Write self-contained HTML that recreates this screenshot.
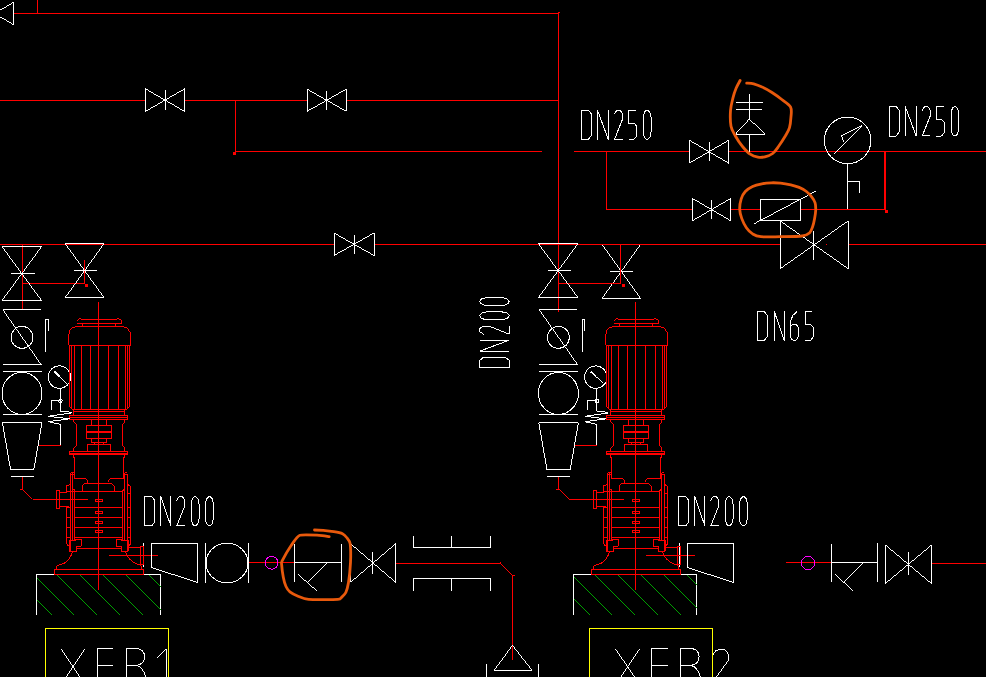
<!DOCTYPE html><html><head><meta charset="utf-8"><title>CAD</title><style>html,body{margin:0;padding:0;background:#000;overflow:hidden}svg{display:block}</style></head><body>
<svg width="986" height="677" viewBox="0 0 986 677" shape-rendering="crispEdges" fill="none" stroke-width="1" stroke-linejoin="bevel">
<rect width="986" height="677" fill="#000"/>
<g stroke="#ffffff" color="#ffffff">
<path  d="M602 244.4L640.6 244.4M602 298.4L640.6 298.4"/><polygon stroke="none" fill="currentColor" points="640.1,244.4 601.5,298.4 602.5,298.4 641.1,244.4"/><polygon stroke="none" fill="currentColor" points="640.1,298.4 601.5,244.4 602.5,244.4 641.1,298.4"/><path d="M610 271.4H633"/>
<path d="M36.5 615V574.5H160.5V615M573.5 615V574.5H696.7V615"/>
<circle cx="59.4" cy="377.1" r="11.2"/><circle cx="595.8" cy="377.1" r="11.2"/>
<path d="M143.5 543.1V567.2M679.5 543.1V567.2"/>
</g>
<g stroke="#ff0000" color="#ff0000">
<path d="M14 13.5H559M37.5 0V13.5M558.9 13V312.4"/><rect x="558" y="11.6" width="2" height="1.4" fill="#f00" stroke="none"/>
<path d="M0 100.5H145.3M184.8 100.5H307.4M346 100.5H559"/>
<path d="M235.5 100.5V152M235.5 151.5H541.5"/><rect x="232.5" y="152" width="3" height="3" fill="#f00" stroke="none"/>
<path d="M573.6 151.9H689.6M728.5 151.9H986"/>
<path d="M606.5 152V209.6M606.5 209.6H692.4M730.8 209.6H760.4M800.5 209.6H885"/>
<path d="M885 152V210" stroke-width="2"/><rect x="885" y="210" width="3" height="3" fill="#f00" stroke="none"/>
<path d="M0 244.5H334M374 244.5H780.4M848 244.5H986"/><rect x="825.5" y="244" width="1.5" height="1" fill="#f00" stroke="none"/>
<path d="M22.4 244.5V309.6M84.6 260V283.6M22.4 283.4H84.6"/><rect x="85" y="284" width="3" height="3" fill="#f00" stroke="none"/>
<path d="M620.6 244.5V283.6M558.9 283.4H620.6"/><rect x="621.5" y="284" width="3" height="3" fill="#f00" stroke="none"/>
<path  d="M248.5 562.6L294.6 562.6M395.7 563L500.4 563L500.4 561.5M512.7 575.4L512.7 659.6"/><polygon stroke="none" fill="currentColor" points="499.9,563 512.2,575.4 513.2,575.4 500.9,563"/><polygon stroke="none" fill="currentColor" points="512.7,574.9 514.5,574.5 514.5,575.5 512.7,575.9"/>
<path d="M785.5 562.6H831.4M931.5 563.4H986"/>

<path d="M98.5 302.4V590.4"/>
<path d="M76.5 321.5L79.5 318.5H80.5L81.5 319.5H116.5L117.5 318.5H118.5L119.5 319.5H120.5L121.5 320.5V323.5H76.5M82.5 323.5V326.5M115.5 323.5V326.5"/>
<path d="M68.5 345V334.5L69.5 333V330.5L70.5 329.5L72.5 327.5H74.5L75.5 326.5H123.5L124.5 327.5H126.5L128.5 329.5V330.5L130.5 332.5V345M68.5 345.5H130.5"/>
<path d="M69.5 345V406.5L72.5 409.5M71.5 345V408M74.5 345V409.5M81.5 345V409.5M90.5 345V409.5M108.5 345V409.5M118.5 345V409.5M125.5 345V409.5M127.5 345V408M129.5 345V406.5L126.5 409.5"/>
<path d="M72 409.5H127M73.5 409.5V415.5M124.5 409.5V415.5M73.5 411.5H124.5"/>
<path d="M69.5 415.5H127.5V419.5H69.5ZM69.5 417.5H127.5"/>
<path d="M73.5 419.5V421.5L76.5 424.5V445.5L73.5 448.5V451M124.5 419.5V422.5L122.5 424.5V445.5L124.6 447.5V451"/>
<path d="M91.3 419.4V425.2M106.3 419.4V425.2M86.2 425.2H111.9V438.8H86.2ZM86.2 431.5H111.9M86.2 432.5H111.9M91.3 438.8V442.6H106.3V438.8M94.2 442.6V444H103.6V442.6M87.5 451V444.6H110.7V451"/>
<path d="M69.5 451.5H127.5V454.5H69.5ZM69.5 453.5H127.5"/>
<path d="M73.5 454.5V457.5H74.5V478.5M124.5 454.5V457.5H123.5V478.5"/>
<!-- tie rods -->
<path d="M70.5 472.5H74.5M70.5 474.5H74.5M70.5 472.5V552M72.5 472.5V540.4M72.5 489.5H74.5V540.4M124.5 472.5H126.5L127.5 473.5M124.5 474.5H127.5M127.5 473.5V552M124.5 472.5V540.4M124.5 489.5L122.5 490.5V540.4"/>
<!-- upper inner chamber -->
<path d="M74.5 478.5H85.5L87.5 480.5V482.5M123.5 478.5H110.5L108.5 480.5V481.5L109.5 482.5M83.5 483.5H111.5L114.5 486.5V491M84.5 483.5L82.5 485.5V491M66.5 491.5H122.5"/>
<!-- stages -->
<path d="M74.5 507.5H122.5M74.5 517.5H122.5M74.5 527.5H122.5M74.5 537.5H122.5"/>
<path d="M95.3 499.5H102.7V501.7H95.3ZM95.3 511.3H102.7V513.5H95.3ZM95.3 521.2H102.7V523.3H95.3ZM95.3 530.4H102.7V532.6H95.3Z"/>
<!-- outer casing -->
<path d="M70.5 483.5L68.5 485.5H66.5V492.3M66.5 506.2V543.3Q67 545.5 69.2 546.2M66.5 507.5H70.5M66.5 517.5H70.5M66.5 527.5H70.5M66.5 537.5H70.5"/>
<path d="M127.5 484.5L129.5 485.5L130.5 486.5V543.3Q130.2 545.5 128.1 546.2M127.5 493.5H130.5M127.5 507.5H130.5M127.5 517.5H130.5M127.5 527.5H130.5M127.5 537.5H130.5"/>
<!-- inlet flange -->
<path d="M57.4 490.3H58.4Q59.4 490.3 59.4 491.3V507.6Q59.4 508.6 58.4 508.6H57.4Q56.4 508.6 56.4 507.6V491.3Q56.4 490.3 57.4 490.3ZM59.4 492.5H66.5M59.4 506.2H68.7"/>
<!-- nuts -->
<path d="M75.9 539.4H81.3V546.2H76.7V551.4H69.3V540.4H75.9ZM121.1 539.4H116.5V546.2H121.1V551.4H128.1V540.4H121.1ZM76.8 548.2H121.1"/>
<!-- bell base -->
<path d="M72.7 551.3Q70 560 64 563.4L57.2 565.7L56.1 569.6M125.2 551.3Q128 560 136.3 563.7L141 565.5V569.6M56 569.6H141M54.4 569.6H143.9V574.4H54.4Z"/>
<!-- outlet -->
<path d="M129.3 547H140.4M140.4 546H143.3V564.8H140.4ZM109.2 555.4H158"/>

<path  d="M22.3 476.4L22.3 489M32.5 499.4L87.8 499.4M37.7 445.5L61 445.5"/><polygon stroke="none" fill="currentColor" points="22.3,488.5 19.5,489 19.5,490 22.3,489.5"/><polygon stroke="none" fill="currentColor" points="21.8,489 32,499.4 33,499.4 22.8,489"/>
<g transform="translate(537 0)">
<path d="M98.5 302.4V590.4"/>
<path d="M76.5 321.5L79.5 318.5H80.5L81.5 319.5H116.5L117.5 318.5H118.5L119.5 319.5H120.5L121.5 320.5V323.5H76.5M82.5 323.5V326.5M115.5 323.5V326.5"/>
<path d="M68.5 345V334.5L69.5 333V330.5L70.5 329.5L72.5 327.5H74.5L75.5 326.5H123.5L124.5 327.5H126.5L128.5 329.5V330.5L130.5 332.5V345M68.5 345.5H130.5"/>
<path d="M69.5 345V406.5L72.5 409.5M71.5 345V408M74.5 345V409.5M81.5 345V409.5M90.5 345V409.5M108.5 345V409.5M118.5 345V409.5M125.5 345V409.5M127.5 345V408M129.5 345V406.5L126.5 409.5"/>
<path d="M72 409.5H127M73.5 409.5V415.5M124.5 409.5V415.5M73.5 411.5H124.5"/>
<path d="M69.5 415.5H127.5V419.5H69.5ZM69.5 417.5H127.5"/>
<path d="M73.5 419.5V421.5L76.5 424.5V445.5L73.5 448.5V451M124.5 419.5V422.5L122.5 424.5V445.5L124.6 447.5V451"/>
<path d="M91.3 419.4V425.2M106.3 419.4V425.2M86.2 425.2H111.9V438.8H86.2ZM86.2 431.5H111.9M86.2 432.5H111.9M91.3 438.8V442.6H106.3V438.8M94.2 442.6V444H103.6V442.6M87.5 451V444.6H110.7V451"/>
<path d="M69.5 451.5H127.5V454.5H69.5ZM69.5 453.5H127.5"/>
<path d="M73.5 454.5V457.5H74.5V478.5M124.5 454.5V457.5H123.5V478.5"/>
<!-- tie rods -->
<path d="M70.5 472.5H74.5M70.5 474.5H74.5M70.5 472.5V552M72.5 472.5V540.4M72.5 489.5H74.5V540.4M124.5 472.5H126.5L127.5 473.5M124.5 474.5H127.5M127.5 473.5V552M124.5 472.5V540.4M124.5 489.5L122.5 490.5V540.4"/>
<!-- upper inner chamber -->
<path d="M74.5 478.5H85.5L87.5 480.5V482.5M123.5 478.5H110.5L108.5 480.5V481.5L109.5 482.5M83.5 483.5H111.5L114.5 486.5V491M84.5 483.5L82.5 485.5V491M66.5 491.5H122.5"/>
<!-- stages -->
<path d="M74.5 507.5H122.5M74.5 517.5H122.5M74.5 527.5H122.5M74.5 537.5H122.5"/>
<path d="M95.3 499.5H102.7V501.7H95.3ZM95.3 511.3H102.7V513.5H95.3ZM95.3 521.2H102.7V523.3H95.3ZM95.3 530.4H102.7V532.6H95.3Z"/>
<!-- outer casing -->
<path d="M70.5 483.5L68.5 485.5H66.5V492.3M66.5 506.2V543.3Q67 545.5 69.2 546.2M66.5 507.5H70.5M66.5 517.5H70.5M66.5 527.5H70.5M66.5 537.5H70.5"/>
<path d="M127.5 484.5L129.5 485.5L130.5 486.5V543.3Q130.2 545.5 128.1 546.2M127.5 493.5H130.5M127.5 507.5H130.5M127.5 517.5H130.5M127.5 527.5H130.5M127.5 537.5H130.5"/>
<!-- inlet flange -->
<path d="M57.4 490.3H58.4Q59.4 490.3 59.4 491.3V507.6Q59.4 508.6 58.4 508.6H57.4Q56.4 508.6 56.4 507.6V491.3Q56.4 490.3 57.4 490.3ZM59.4 492.5H66.5M59.4 506.2H68.7"/>
<!-- nuts -->
<path d="M75.9 539.4H81.3V546.2H76.7V551.4H69.3V540.4H75.9ZM121.1 539.4H116.5V546.2H121.1V551.4H128.1V540.4H121.1ZM76.8 548.2H121.1"/>
<!-- bell base -->
<path d="M72.7 551.3Q70 560 64 563.4L57.2 565.7L56.1 569.6M125.2 551.3Q128 560 136.3 563.7L141 565.5V569.6M56 569.6H141M54.4 569.6H143.9V574.4H54.4Z"/>
<!-- outlet -->
<path d="M129.3 547H140.4M140.4 546H143.3V564.8H140.4ZM109.2 555.4H158"/>
</g>
<g transform="translate(536.4 0)"><path  d="M22.3 476.4L22.3 489M32.5 499.4L87.8 499.4M37.7 445.5L61 445.5"/><polygon stroke="none" fill="currentColor" points="22.3,488.5 19.5,489 19.5,490 22.3,489.5"/><polygon stroke="none" fill="currentColor" points="21.8,489 32,499.4 33,499.4 22.8,489"/></g>
</g>
<polygon stroke="none" fill="#00a000" points="37,600 51.5,614.5 51.5,615.5 37,601"/><polygon stroke="none" fill="#00a000" points="37,577.1 74.4,614.5 74.4,615.5 37,578.1"/><polygon stroke="none" fill="#00a000" points="57.3,574.5 97.3,614.5 97.3,615.5 57.3,575.5"/><polygon stroke="none" fill="#00a000" points="80.3,574.5 120.3,614.5 120.3,615.5 80.3,575.5"/><polygon stroke="none" fill="#00a000" points="103.3,574.5 143.3,614.5 143.3,615.5 103.3,575.5"/><polygon stroke="none" fill="#00a000" points="125.8,575 160.5,609.7 161.5,609.7 126.8,575"/><polygon stroke="none" fill="#00a000" points="148.8,575 160.5,586.7 161.5,586.7 149.8,575"/>
<polygon stroke="none" fill="#00a000" points="574,599 589.5,614.5 589.5,615.5 574,600"/><polygon stroke="none" fill="#00a000" points="574,576.1 612.4,614.5 612.4,615.5 574,577.1"/><polygon stroke="none" fill="#00a000" points="595.3,574.5 635.3,614.5 635.3,615.5 595.3,575.5"/><polygon stroke="none" fill="#00a000" points="618.3,574.5 658.3,614.5 658.3,615.5 618.3,575.5"/><polygon stroke="none" fill="#00a000" points="641.3,574.5 681.3,614.5 681.3,615.5 641.3,575.5"/><polygon stroke="none" fill="#00a000" points="664.3,574.5 696.7,606.9 696.7,607.9 664.3,575.5"/><polygon stroke="none" fill="#00a000" points="687.3,574.5 696.7,583.9 696.7,584.9 687.3,575.5"/>
<g stroke="#ffffff" color="#ffffff">
<path  d="M13.7 2.2L13.7 24.8"/><polygon stroke="none" fill="currentColor" points="-5.5,13 13.7,1.7 13.7,2.7 -5.5,14"/><polygon stroke="none" fill="currentColor" points="13.7,24.3 -5.5,13 -5.5,14 13.7,25.3"/>
<path  d="M145.3 88.7L145.3 111.5M184.8 88.7L184.8 111.5"/><polygon stroke="none" fill="currentColor" points="145.3,111 184.8,88.2 184.8,89.2 145.3,112"/><polygon stroke="none" fill="currentColor" points="184.8,111 145.3,88.2 145.3,89.2 184.8,112"/><path d="M165 90V109.5"/>
<path  d="M307.4 89.3L307.4 111.2M346 89.3L346 111.2"/><polygon stroke="none" fill="currentColor" points="307.4,110.7 346,88.8 346,89.8 307.4,111.7"/><polygon stroke="none" fill="currentColor" points="346,110.7 307.4,88.8 307.4,89.8 346,111.7"/><path d="M326.7 90.5V109.5"/>
<path  d="M334 233L334 255.5M374 233L374 255.5"/><polygon stroke="none" fill="currentColor" points="334,255 374,232.5 374,233.5 334,256"/><polygon stroke="none" fill="currentColor" points="374,255 334,232.5 334,233.5 374,256"/><path d="M354 234.5V254"/>
<path  d="M689.6 140.4L689.6 163M728.5 140.4L728.5 163"/><polygon stroke="none" fill="currentColor" points="689.6,162.5 728.5,139.9 728.5,140.9 689.6,163.5"/><polygon stroke="none" fill="currentColor" points="728.5,162.5 689.6,139.9 689.6,140.9 728.5,163.5"/><path d="M709.4 142.4V161"/>
<path  d="M692.4 198.4L692.4 220.8M730.8 198.4L730.8 220.8"/><polygon stroke="none" fill="currentColor" points="692.4,220.3 730.8,197.9 730.8,198.9 692.4,221.3"/><polygon stroke="none" fill="currentColor" points="730.8,220.3 692.4,197.9 692.4,198.9 730.8,221.3"/><path d="M711.6 200V219"/>
<path  d="M780.4 221L780.4 268.6M848 221L848 268.6"/><polygon stroke="none" fill="currentColor" points="780.4,268.1 848,220.5 848,221.5 780.4,269.1"/><polygon stroke="none" fill="currentColor" points="848,268.1 780.4,220.5 780.4,221.5 848,269.1"/><path d="M813.6 231.4V259.6"/>
<path  d="M350.5 543.7L350.5 582.4M395.7 543.7L395.7 582.4"/><polygon stroke="none" fill="currentColor" points="350.5,581.9 395.7,543.2 395.7,544.2 350.5,582.9"/><polygon stroke="none" fill="currentColor" points="395.7,581.9 350.5,543.2 350.5,544.2 395.7,582.9"/><path d="M372.6 551.5V573.8"/>
<path  d="M885.4 545L885.4 583.6M931.5 545L931.5 583.6"/><polygon stroke="none" fill="currentColor" points="885.4,583.1 931.5,544.5 931.5,545.5 885.4,584.1"/><polygon stroke="none" fill="currentColor" points="931.5,583.1 885.4,544.5 885.4,545.5 931.5,584.1"/><path d="M908.6 552V575"/>
<path  d="M2 246.6L41.6 246.6M2 300.6L41.6 300.6"/><polygon stroke="none" fill="currentColor" points="41.1,246.6 1.5,300.6 2.5,300.6 42.1,246.6"/><polygon stroke="none" fill="currentColor" points="41.1,300.6 1.5,246.6 2.5,246.6 42.1,300.6"/><path d="M11 273.2H35"/>
<path  d="M65.2 243.6L104 243.6M65.2 297.6L104 297.6"/><polygon stroke="none" fill="currentColor" points="103.5,243.6 64.7,297.6 65.7,297.6 104.5,243.6"/><polygon stroke="none" fill="currentColor" points="103.5,297.6 64.7,243.6 65.7,243.6 104.5,297.6"/><path d="M74.2 270.6H97.2"/>
<path  d="M538.4 243.6L578 243.6M538.4 297.6L578 297.6"/><polygon stroke="none" fill="currentColor" points="577.5,243.6 537.9,297.6 538.9,297.6 578.5,243.6"/><polygon stroke="none" fill="currentColor" points="577.5,297.6 537.9,243.6 538.9,243.6 578.5,297.6"/><path d="M548 270.4H571"/>
<path  d="M2.8 309.6L41 309.6M2.8 364.4L41.6 364.4"/><polygon stroke="none" fill="currentColor" points="2.3,309.6 40.5,364.4 41.5,364.4 3.3,309.6"/><circle cx="22" cy="337.4" r="11"/><path d="M45.6 352V319.5H48.4V330.5"/><path d="M2.8 371.4H41.6M2.8 414.5H41.6"/><ellipse cx="22" cy="393.4" rx="20" ry="21"/><path  d="M2.4 422.8L42 422.8M33.8 469.6L10.6 469.6"/><polygon stroke="none" fill="currentColor" points="41.5,422.8 33.3,469.6 34.3,469.6 42.5,422.8"/><polygon stroke="none" fill="currentColor" points="10.1,469.6 1.9,422.8 2.9,422.8 11.1,469.6"/><path d="M11 476.4H33.8"/><polygon stroke="none" fill="currentColor" points="54.2,371 66.8,382.8 66.8,383.8 54.2,372"/><polygon stroke="none" fill="currentColor" points="54.8,370.8 60,375.7 60,376.7 54.8,371.8"/><polygon stroke="none" fill="currentColor" points="54,371.5 59.4,376.3 59.4,377.3 54,372.5"/><path d="M60.4 388.7V411.1M60.4 400.8H51.3V409.6"/><circle cx="60.4" cy="400.8" r="1.8"/><path  d="M60.4 411.1L66 411.1M60.4 424.4L60.4 445"/><polygon stroke="none" fill="currentColor" points="66,410.6 72,412.4 72,413.4 66,411.6"/><polygon stroke="none" fill="currentColor" points="72,412.4 48.3,415.8 48.3,416.8 72,413.4"/><polygon stroke="none" fill="currentColor" points="48.3,415.8 69.7,418.3 69.7,419.3 48.3,416.8"/><polygon stroke="none" fill="currentColor" points="69.7,418.3 48.3,421.2 48.3,422.2 69.7,419.3"/><polygon stroke="none" fill="currentColor" points="48.3,421.2 60.4,423.9 60.4,424.9 48.3,422.2"/>
<g transform="translate(536.4 0)"><path  d="M2.8 309.6L41 309.6M2.8 364.4L41.6 364.4"/><polygon stroke="none" fill="currentColor" points="2.3,309.6 40.5,364.4 41.5,364.4 3.3,309.6"/><circle cx="22" cy="337.4" r="11"/><path d="M45.6 352V319.5H48.4V330.5"/><path d="M2.8 371.4H41.6M2.8 414.5H41.6"/><ellipse cx="22" cy="393.4" rx="20" ry="21"/><path  d="M2.4 422.8L42 422.8M33.8 469.6L10.6 469.6"/><polygon stroke="none" fill="currentColor" points="41.5,422.8 33.3,469.6 34.3,469.6 42.5,422.8"/><polygon stroke="none" fill="currentColor" points="10.1,469.6 1.9,422.8 2.9,422.8 11.1,469.6"/><path d="M11 476.4H33.8"/><polygon stroke="none" fill="currentColor" points="54.2,371 66.8,382.8 66.8,383.8 54.2,372"/><polygon stroke="none" fill="currentColor" points="54.8,370.8 60,375.7 60,376.7 54.8,371.8"/><polygon stroke="none" fill="currentColor" points="54,371.5 59.4,376.3 59.4,377.3 54,372.5"/><path d="M60.4 388.7V411.1M60.4 400.8H51.3V409.6"/><circle cx="60.4" cy="400.8" r="1.8"/><path  d="M60.4 411.1L66 411.1M60.4 424.4L60.4 445"/><polygon stroke="none" fill="currentColor" points="66,410.6 72,412.4 72,413.4 66,411.6"/><polygon stroke="none" fill="currentColor" points="72,412.4 48.3,415.8 48.3,416.8 72,413.4"/><polygon stroke="none" fill="currentColor" points="48.3,415.8 69.7,418.3 69.7,419.3 48.3,416.8"/><polygon stroke="none" fill="currentColor" points="69.7,418.3 48.3,421.2 48.3,422.2 69.7,419.3"/><polygon stroke="none" fill="currentColor" points="48.3,421.2 60.4,423.9 60.4,424.9 48.3,422.2"/></g>
<path  d="M151.4 543.6L197.6 543.6L197.6 582.4M151.4 567.6L151.4 543.6"/><polygon stroke="none" fill="currentColor" points="197.6,581.9 151.4,567.1 151.4,568.1 197.6,582.9"/>
<g transform="translate(536 0)"><path  d="M151.4 543.6L197.6 543.6L197.6 582.4M151.4 567.6L151.4 543.6"/><polygon stroke="none" fill="currentColor" points="197.6,581.9 151.4,567.1 151.4,568.1 197.6,582.9"/></g>
<path d="M205.6 543.4V583M248.5 543.4V583"/><ellipse cx="227" cy="563" rx="21" ry="19.8"/>
<path  d="M294.6 544.4L294.6 581.6M294.6 562.6L341.5 562.6M341.5 544.4L341.5 581.6"/><polygon stroke="none" fill="currentColor" points="326.5,562.6 307.9,582 308.9,582 327.5,562.6"/><polygon stroke="none" fill="currentColor" points="298,573.9 317,590.5 317,591.5 298,574.9"/>
<path  d="M831.4 543.6L831.4 582M831.4 562.6L877.6 562.6M877.6 543L877.6 582"/><polygon stroke="none" fill="currentColor" points="862.5,562.6 843.5,582.4 844.5,582.4 863.5,562.6"/><polygon stroke="none" fill="currentColor" points="835.4,573.9 853,590.5 853,591.5 835.4,574.9"/>
<path d="M413.5 536V547.4H490.7V536M451.7 536V547.4M413.5 590.8V578.2H490.7V590.8M451.7 578.2V590.8"/>
<path  d="M494.4 670L531.8 670M486.5 664L486.5 677M538.5 664L538.5 677"/><polygon stroke="none" fill="currentColor" points="512,645.4 493.9,670 494.9,670 513,645.4"/><polygon stroke="none" fill="currentColor" points="531.3,670 512,645.4 513,645.4 532.3,670"/>
<path  d="M749.4 94L749.4 119M735 134.6L765.4 134.6M736 102L763 102M736 109.4L762 109.4M749.4 134.6L749.4 151.6"/><polygon stroke="none" fill="currentColor" points="748.9,119 734.5,134.6 735.5,134.6 749.9,119"/><polygon stroke="none" fill="currentColor" points="765.4,134.1 749.4,118.5 749.4,119.5 765.4,135.1"/>
<circle cx="847.6" cy="140.4" r="23.3"/><path  d="M847.6 163.6L847.6 209.4M847.6 181.6L859.4 181.6L859.4 193"/><polygon stroke="none" fill="currentColor" points="832.9,154.4 861.5,125.6 862.5,125.6 833.9,154.4"/><polygon stroke="none" fill="currentColor" points="862,125.1 841.4,135.5 841.4,136.5 862,126.1"/><polygon stroke="none" fill="currentColor" points="840.9,136 843.5,142 844.5,142 841.9,136"/>
<path  d="M760.4 199.4L800.5 199.4L800.5 220.4L760.4 220.4L760.4 199.4"/><polygon stroke="none" fill="currentColor" points="754.4,223.1 816,190.5 816,191.5 754.4,224.1"/>
<path transform="translate(581.2 110) scale(1.0)" d="M0 0V29.6H7L10.2 25.6V4L7 0Z"/><path transform="translate(597.4000000000001 110) scale(1.0)" d="M0 29.6V0L11 29.6V0"/><path transform="translate(614.3000000000001 110) scale(1.0)" d="M0 4.2L2.6 0H5.6L8.2 3.8V9.3L0.2 29.4H8.4"/><path transform="translate(628.5 110) scale(1.0)" d="M7.4 0H0.3V13.4H5.8L8 15.9V26.1L5.2 29.6H0"/><path transform="translate(643.1 110) scale(1.0)" d="M4.3 0L2 1.2L0.2 5.3V24.4L2 28.4L4.3 29.6L6.8 27.4L8 22V7.6L6.8 2.2Z"/>
<path transform="translate(889 106.4) scale(1.0)" d="M0 0V29.6H7L10.2 25.6V4L7 0Z"/><path transform="translate(905.2 106.4) scale(1.0)" d="M0 29.6V0L11 29.6V0"/><path transform="translate(922.1 106.4) scale(1.0)" d="M0 4.2L2.6 0H5.6L8.2 3.8V9.3L0.2 29.4H8.4"/><path transform="translate(936.3 106.4) scale(1.0)" d="M7.4 0H0.3V13.4H5.8L8 15.9V26.1L5.2 29.6H0"/><path transform="translate(950.9 106.4) scale(1.0)" d="M4.3 0L2 1.2L0.2 5.3V24.4L2 28.4L4.3 29.6L6.8 27.4L8 22V7.6L6.8 2.2Z"/>
<path transform="translate(144.5 496.4) scale(1.0)" d="M0 0V29.6H7L10.2 25.6V4L7 0Z"/><path transform="translate(160.7 496.4) scale(1.0)" d="M0 29.6V0L10.2 29.6V0"/><path transform="translate(176.6 496.4) scale(1.0)" d="M0 4.2L2.6 0H5.6L8.2 3.8V9.3L0.2 29.4H8.4"/><path transform="translate(191.1 496.4) scale(1.0)" d="M4.3 0L2 1.2L0.2 5.3V24.4L2 28.4L4.3 29.6L6.8 27.4L8 22V7.6L6.8 2.2Z"/><path transform="translate(205.4 496.4) scale(1.0)" d="M4.3 0L2 1.2L0.2 5.3V24.4L2 28.4L4.3 29.6L6.8 27.4L8 22V7.6L6.8 2.2Z"/>
<path transform="translate(678.5 496.4) scale(1.0)" d="M0 0V29.6H7L10.2 25.6V4L7 0Z"/><path transform="translate(694.7 496.4) scale(1.0)" d="M0 29.6V0L10.2 29.6V0"/><path transform="translate(710.6 496.4) scale(1.0)" d="M0 4.2L2.6 0H5.6L8.2 3.8V9.3L0.2 29.4H8.4"/><path transform="translate(725.1 496.4) scale(1.0)" d="M4.3 0L2 1.2L0.2 5.3V24.4L2 28.4L4.3 29.6L6.8 27.4L8 22V7.6L6.8 2.2Z"/><path transform="translate(739.4 496.4) scale(1.0)" d="M4.3 0L2 1.2L0.2 5.3V24.4L2 28.4L4.3 29.6L6.8 27.4L8 22V7.6L6.8 2.2Z"/>
<path transform="translate(757 311.2) scale(1.0)" d="M0 0V29.6H7L10.2 25.6V4L7 0Z"/><path transform="translate(774.2 311.2) scale(1.0)" d="M0 29.6V0L10.2 29.6V0"/><path transform="translate(790 311.2) scale(1.0)" d="M6.8 0.6L3 4L0.8 9L0 14V24.5L2 28.4L4.8 29.7L7.5 27.4L8.3 24.4V16.3L6.6 13.7L2.7 13.2L0.2 16"/><path transform="translate(805 311.2) scale(1.0)" d="M7.4 0H0.3V13.4H5.8L8 15.9V26.1L5.2 29.6H0"/>
<g transform="translate(479.6 367.4) rotate(-90)"><path transform="translate(0 0) scale(1.0)" d="M0 0V29.6H7L10.2 25.6V4L7 0Z"/><path transform="translate(16.2 0) scale(1.0)" d="M0 29.6V0L11 29.6V0"/><path transform="translate(33.1 0) scale(1.0)" d="M0 4.2L2.6 0H5.6L8.2 3.8V9.3L0.2 29.4H8.4"/><path transform="translate(47.6 0) scale(1.0)" d="M4.3 0L2 1.2L0.2 5.3V24.4L2 28.4L4.3 29.6L6.8 27.4L8 22V7.6L6.8 2.2Z"/><path transform="translate(61.9 0) scale(1.0)" d="M4.3 0L2 1.2L0.2 5.3V24.4L2 28.4L4.3 29.6L6.8 27.4L8 22V7.6L6.8 2.2Z"/></g>
<polygon stroke="none" fill="currentColor" points="60.5,649 84.5,684.6 85.5,684.6 61.5,649"/><polygon stroke="none" fill="currentColor" points="84.5,649 60.5,684.6 61.5,684.6 85.5,649"/><path d="M97 687V648.5H113M97 665.5H113M126 687V648.5H137Q144.5 649.5 144.5 656.8Q144.5 664 136.5 665.4H126M136.5 665.4Q143 667 145.8 677V687"/><path  d="M166.5 649L166.5 687"/><polygon stroke="none" fill="currentColor" points="157,657.5 166.5,648.5 166.5,649.5 157,658.5"/>
<polygon stroke="none" fill="currentColor" points="615.1,649 639.1,684.6 640.1,684.6 616.1,649"/><polygon stroke="none" fill="currentColor" points="639.1,649 615.1,684.6 616.1,684.6 640.1,649"/><path d="M651.6 687V648.5H667.6M651.6 665.5H667.6M680.6 687V648.5H691.6Q699.1 649.5 699.1 656.8Q699.1 664 691.1 665.4H680.6M691.1 665.4Q697.6 667 700.4000000000001 677V687"/><path  d="M719.5 649.4L723.5 649.4M728.5 655L728.5 660"/><polygon stroke="none" fill="currentColor" points="712.5,655 715,651 716,651 713.5,655"/><polygon stroke="none" fill="currentColor" points="715.5,650.5 719.5,648.9 719.5,649.9 715.5,651.5"/><polygon stroke="none" fill="currentColor" points="723.5,648.9 727,651 727,652 723.5,649.9"/><polygon stroke="none" fill="currentColor" points="726.5,651.5 728,655 729,655 727.5,651.5"/><polygon stroke="none" fill="currentColor" points="728,660 710.5,684.6 711.5,684.6 729,660"/>
</g>
<path stroke="#ffff00" d="M45.5 677V628.5H168.5V677M589.5 677V628.5H712.5V677"/>
<circle stroke="#ff00ff" cx="271.6" cy="562.8" r="6.4"/><circle stroke="#ff00ff" cx="808" cy="563" r="6.6"/>
<g stroke="#e8590c" stroke-width="2.8" shape-rendering="auto" stroke-linecap="round" stroke-linejoin="round">
<path d="M740.1 80.5C739.4 81.8 737.3 85.4 736.1 88.3C734.9 91.2 733.8 94.4 732.9 98.1C732.0 101.8 730.8 106.0 730.5 110.7C730.2 115.4 730.2 122.0 731 126.2C731.8 130.4 733.5 132.6 735.4 136C737.3 139.4 740.0 143.5 742.5 146.5C745.0 149.5 747.6 152.4 750.2 154.2C752.8 156.0 755.5 156.7 757.9 157.1C760.3 157.5 762.4 157.4 764.9 156.8C767.4 156.2 770.4 155.3 772.7 153.5C775.1 151.7 776.9 148.7 779 145.8C781.1 142.9 783.5 139.0 785.3 136C787.0 133.0 788.6 130.7 789.5 127.6C790.4 124.5 790.7 121.1 790.9 117.7C791.1 114.3 792.1 110.2 790.6 107.2C789.1 104.2 784.9 102.0 781.8 99.5C778.7 97.0 775.3 94.6 772 92.5C768.7 90.4 765.1 88.5 762.1 87.1C759.1 85.6 756.3 84.5 753.7 83.8C751.1 83.1 747.9 83.2 746.7 83.1"/>
<path d="M739.7 209.1C739.6 205.8 740.3 201.7 741.2 198.8C742.1 195.9 743.4 193.6 745.3 191.5C747.2 189.4 749.8 187.7 752.6 186.4C755.4 185.1 758.8 184.4 761.9 183.8C765.0 183.2 768.1 182.9 771.2 182.8C774.3 182.7 777.2 182.8 780.5 183.1C783.8 183.4 787.7 184.1 790.8 184.8C793.9 185.5 796.5 186.3 799.1 187.4C801.7 188.5 804.3 189.9 806.4 191.5C808.5 193.1 810.0 194.8 811.5 196.7C813.0 198.6 814.4 200.7 815.1 202.9C815.8 205.2 815.8 207.6 815.7 210.2C815.6 212.8 815.1 215.7 814.6 218.4C814.1 221.2 813.5 224.3 812.6 226.7C811.8 229.1 811.2 231.3 809.5 232.9C807.8 234.5 807.0 235.4 802.2 236C797.4 236.6 787.4 236.6 780.5 236.7C773.6 236.8 765.5 237.2 760.9 236.7C756.2 236.2 755.0 235.4 752.6 233.9C750.2 232.4 748.2 230.3 746.4 227.7C744.6 225.1 742.8 221.5 741.7 218.4C740.6 215.3 739.8 212.4 739.7 209.1Z"/>
<path d="M314.5 530C315.4 530.0 321.3 530.2 323.2 530.4C325.1 530.6 331.9 531.4 333.8 531.7C335.7 532.0 341.2 533.1 342.5 533.7C343.8 534.3 346.3 537.0 347.1 538C347.9 539.0 349.9 541.4 350.2 543.9C350.5 546.4 350.7 558.7 350.5 562.6C350.3 566.5 349.0 579.5 348.5 582.5C348.0 585.5 346.5 591.0 345.8 592.5C345.1 594.0 342.6 596.4 341.8 597.1C341.0 597.8 341.1 599.2 337.8 599.4C334.5 599.6 312.5 599.7 308.6 599.4C304.7 599.1 300.5 597.3 298.6 596.5C296.7 595.7 291.2 592.8 289.9 591.8C288.6 590.8 286.7 588.0 286 586.5C285.3 585.0 283.7 579.3 283.3 577.2C282.9 575.1 281.8 566.8 281.7 565.2C281.6 563.6 281.0 563.2 282 561.2C283.0 559.2 289.5 547.9 291.3 545.3C293.1 542.7 297.1 536.3 299.9 535.3C302.7 534.3 316.3 535.2 319.2 535.3C322.1 535.4 328.2 536.5 329.2 536.6"/>
</g>
</svg></body></html>
